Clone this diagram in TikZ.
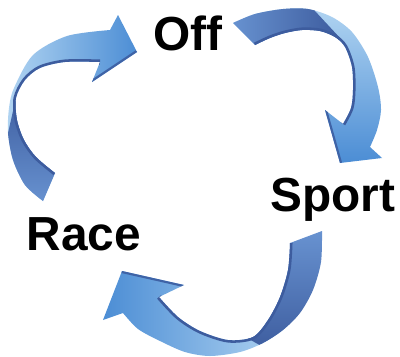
\documentclass[tikz,border=0pt]{standalone}
\usepackage{fontspec}
\newfontfamily\modefont{Liberation Sans}
\definecolor{arrowpale}{HTML}{B2D5F2}
\definecolor{arrowmid}{HTML}{4A8CD4}
\definecolor{arrowback}{HTML}{6A95D3}
\definecolor{arrowdeep}{HTML}{3D5C9E}

\begin{document}
\begin{tikzpicture}[
  x=0.025cm, y=-0.025cm,
  modetext/.style={font={\modefont\bfseries\fontsize{34}{40}\selectfont}, inner sep=0pt, anchor=base},
  edgestrip/.style={draw=arrowdeep, line width=3.6pt},
  bevel/.style={draw=arrowdeep!85!arrowmid, line width=3pt}
]
\useasboundingbox (0,0) rectangle (400,356);

% Race -> Off
\begin{scope}
  \clip plot[smooth] coordinates {(43,201) (25,185) (13,160) (8,133) (9,108) (14,88) (33,55) (67,36) (110,30)}
    -- (118,15) -- (137,52) -- (92,82)
    -- plot[smooth] coordinates {(100,62) (65,62) (40,68) (25,80) (16,98) (17,120) (24,140) (36,157) (55,173)} -- cycle;
  \shade[left color=arrowpale, right color=arrowmid] (5,10) rectangle (140,205);
  \shade[top color=arrowdeep, bottom color=arrowback] (0,150) -- (8,133) -- (16,98) -- (30,90) -- (90,210) -- (0,210) -- cycle;
  \draw[edgestrip] plot[smooth] coordinates {(100,62) (65,62) (40,68) (25,80) (16,98) (17,120) (24,140) (36,157) (55,173)};
  \draw[bevel] (137,52) -- (92,82);
\end{scope}

% Off -> Sport
\begin{scope}
  \clip plot[smooth] coordinates {(233,23) (255,14) (283,9) (308,9) (332,17) (352,32) (368,57) (378,87) (381,110) (377,130) (370,147)}
    -- (382,158) -- (340,163) -- (325,110)
    -- plot[smooth] coordinates {(343,124) (351,108) (353,90) (352,67) (345,47) (335,37) (320,31) (302,30) (285,33) (270,38) (255,45)} -- cycle;
  \shade[top color=arrowpale, bottom color=arrowmid] (225,5) rectangle (390,165);
  \shade[left color=arrowback, right color=arrowdeep] (225,0) -- (318,0) -- (315,11) -- (340,38) -- (330,60) -- (225,60) -- cycle;
  \draw[edgestrip] plot[smooth] coordinates {(343,124) (351,108) (353,90) (352,67) (345,47) (335,37) (320,31) (302,30) (285,33) (270,38) (255,45)};
  \draw[bevel] (325,110) -- (340,163);
\end{scope}

% Sport -> Race
\begin{scope}
  \clip plot[smooth] coordinates {(322,231) (321,262) (313,290) (300,313) (283,330) (263,343) (240,352) (210,356) (185,352) (160,341) (138,329) (123,313)}
    -- (103,320) -- (122,271) -- (184,285)
    -- plot[smooth] coordinates {(159,297) (178,317) (200,331) (228,340) (253,337) (268,320) (280,297) (288,270) (290,243)} -- cycle;
  \shade[left color=arrowmid, right color=arrowpale] (100,265) rectangle (290,356);
  \shade[top color=arrowback, bottom color=arrowdeep] (282,225) -- (335,225) -- (335,300) -- (272,352) -- (240,334) -- (262,300) -- cycle;
  \draw[edgestrip] plot[smooth] coordinates {(159,297) (178,317) (200,331) (228,340) (253,337) (268,320) (280,297) (288,270) (290,243)};
  \draw[bevel] (122,271) -- (184,285);
\end{scope}

\node[modetext] (off) at (188,50) {Off};
\node[modetext] (sport) at (333,211) {Sport};
\node[modetext] (race) at (84,250) {Race};
\end{tikzpicture}
\end{document}
